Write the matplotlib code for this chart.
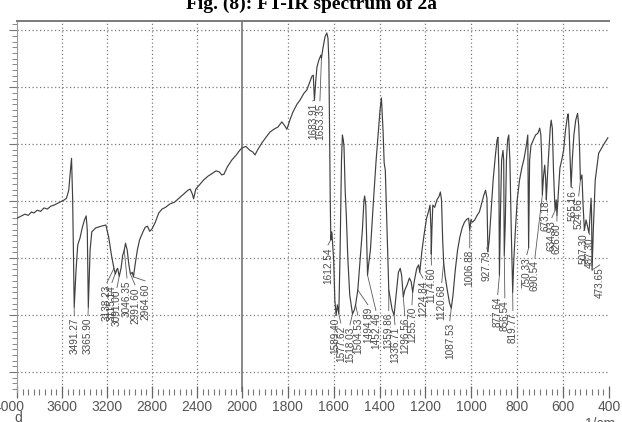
import numpy as np
import matplotlib.pyplot as plt
import matplotlib.transforms as mtransforms
from matplotlib.ticker import FixedLocator, NullFormatter, MultipleLocator

# FT-IR trace: wavenumber (1/cm) and transmittance
wavenumber = [
    4000, 3960, 3930, 3900, 3870, 3850, 3820, 3790, 3760, 3730,
    3700, 3670, 3640, 3600, 3580, 3560, 3540, 3525, 3515, 3505,
    3491.27, 3475, 3460, 3440, 3420, 3400, 3385, 3375, 3365.90, 3350,
    3335, 3300, 3250, 3210, 3185, 3160, 3138.23, 3125, 3115.14, 3105,
    3091.00, 3075, 3060, 3046.35, 3035, 3020, 3005, 2991.60, 2975, 2964.60,
    2950, 2930, 2910, 2880, 2860, 2840, 2820, 2800, 2770, 2740,
    2710, 2680, 2640, 2600, 2560, 2520, 2480, 2460, 2440, 2430,
    2410, 2380, 2340, 2300, 2260, 2230, 2200, 2180, 2160, 2130,
    2090, 2050, 2020, 2000, 1983, 1965, 1952, 1943, 1930, 1913,
    1895, 1878, 1861, 1843, 1826, 1813, 1804, 1791, 1778, 1760,
    1747, 1730, 1717, 1704, 1695, 1689, 1683.91, 1678, 1673, 1665,
    1656, 1653.35, 1647, 1638, 1630, 1625, 1621, 1617, 1615, 1612.54,
    1608, 1600, 1595, 1589.40, 1584, 1577.62, 1572, 1566, 1562, 1558,
    1555, 1550, 1545, 1538, 1530, 1518.03, 1510, 1504.53, 1494.89, 1485,
    1475, 1468, 1465, 1460, 1455, 1452.46, 1448, 1440, 1425, 1415,
    1405, 1398, 1392, 1385, 1380, 1375, 1370, 1365, 1359.86, 1352,
    1345, 1336.71, 1328, 1318, 1310, 1304, 1296.56, 1290, 1280, 1270,
    1262, 1255.70, 1248, 1238, 1230, 1224.84, 1215, 1205, 1195, 1185,
    1180, 1176, 1174.60, 1172, 1168, 1160, 1150, 1140, 1135, 1130,
    1125, 1120.68, 1115, 1105, 1095, 1087.53, 1080, 1070, 1060, 1050,
    1040, 1030, 1020, 1012, 1006.88, 1002, 995, 985, 975, 965,
    955, 945, 938, 932, 927.79, 922, 915, 905, 895, 888,
    884, 880, 877.64, 872, 868, 862, 859, 856.54, 852, 847,
    842, 837, 832, 826, 819.77, 815, 808, 800, 790, 780,
    770, 760, 754, 750.33, 746, 740, 730, 720, 710, 702,
    697, 693, 690.54, 685, 680, 676, 673.18, 668, 662, 656,
    652, 647, 642, 638, 634.93, 630, 626.80, 620, 614, 606,
    598, 590, 582, 578, 574, 570, 565.16, 560, 553, 545,
    537, 532, 528, 524.66, 518, 513, 507.30, 500, 487.30, 482,
    478, 476, 473.65, 468, 460, 445, 425, 405,
]
transmittance = [
    37.0, 37.4, 37.7, 37.5, 38.1, 37.9, 38.4, 38.2, 38.8, 38.6,
    39.1, 39.3, 39.6, 40.0, 40.2, 40.5, 41.9, 45.4, 47.5, 40.2,
    21.4, 27.9, 32.3, 33.5, 35.3, 36.7, 37.4, 34.9, 21.4, 31.4,
    34.6, 35.3, 35.6, 35.8, 33.7, 30.5, 28.2, 27.2, 27.9, 28.2,
    26.8, 28.2, 30.5, 31.4, 32.6, 31.4, 28.8, 27.2, 27.5, 26.7,
    28.8, 31.4, 33.2, 34.6, 35.4, 35.6, 34.7, 35.1, 36.3, 37.9,
    38.6, 38.9, 39.5, 39.8, 40.5, 41.2, 41.9, 42.1, 41.2, 40.4,
    42.1, 42.8, 43.7, 44.4, 44.9, 45.3, 45.1, 44.6, 44.7, 46.0,
    47.2, 48.1, 48.9, 49.3, 49.6, 48.9, 48.6, 48.1, 49.1, 50.2,
    51.2, 52.1, 52.6, 53.0, 53.9, 53.2, 52.6, 54.2, 55.6, 57.0,
    57.7, 58.9, 59.5, 60.9, 61.9, 62.1, 57.7, 61.2, 63.5, 64.7,
    65.6, 65.1, 66.8, 68.8, 69.5, 68.6, 64.7, 48.9, 40.2, 33.2,
    34.6, 29.6, 22.6, 20.0, 21.8, 20.2, 31.4, 47.2, 51.6, 50.7,
    49.5, 41.9, 37.5, 29.6, 23.5, 20.2, 20.9, 21.8, 24.4, 29.6,
    34.9, 40.2, 40.9, 39.3, 31.4, 27.0, 28.8, 31.4, 41.1, 47.2,
    52.5, 56.0, 58.1, 52.5, 46.7, 45.4, 38.4, 31.4, 24.4, 22.6,
    20.9, 20.0, 23.5, 27.5, 28.2, 27.0, 23.2, 24.4, 25.3, 26.5,
    25.8, 24.0, 26.1, 28.2, 28.8, 27.5, 31.4, 34.4, 37.0, 38.4,
    39.3, 34.9, 30.7, 34.9, 39.3, 38.9, 40.2, 40.9, 41.6, 40.2,
    33.2, 29.3, 27.0, 24.4, 22.1, 21.2, 23.5, 27.9, 31.4, 33.7,
    35.3, 36.3, 36.8, 37.0, 34.9, 36.7, 36.3, 36.7, 37.5, 38.1,
    39.6, 41.1, 41.9, 40.5, 31.1, 33.2, 37.5, 43.7, 48.1, 50.7,
    51.2, 45.4, 27.0, 40.2, 47.2, 48.9, 47.2, 30.5, 36.3, 47.2,
    50.7, 51.6, 47.2, 34.9, 24.0, 29.6, 34.9, 40.2, 43.7, 45.8,
    47.5, 49.8, 51.6, 31.8, 47.2, 49.8, 50.7, 51.6, 51.9, 52.8,
    51.6, 47.2, 41.1, 44.6, 46.3, 43.7, 40.2, 44.6, 48.9, 52.8,
    54.2, 52.8, 45.4, 41.1, 38.4, 40.2, 37.5, 41.9, 45.8, 47.2,
    48.9, 52.3, 54.7, 55.3, 52.6, 48.2, 42.5, 47.2, 51.6, 54.2,
    55.4, 53.3, 48.9, 43.7, 44.6, 39.3, 34.9, 36.7, 34.4, 37.9,
    40.5, 37.9, 27.9, 35.4, 43.7, 48.4, 49.8, 51.1,
]

# peak picks printed under the trace
peak_labels = [
    "3491.27", "3365.90", "3138.23", "3115.14", "3091.00", "3046.35",
    "2991.60", "2964.60", "1683.91", "1653.35", "1612.54", "1589.40",
    "1577.62", "1518.03", "1504.53", "1494.89", "1452.46", "1359.86",
    "1336.71", "1296.56", "1255.70", "1224.84", "1174.60", "1120.68",
    "1087.53", "1006.88", "927.79", "877.64", "856.54", "819.77",
    "750.33", "690.54", "673.18", "634.93", "626.80", "565.16",
    "524.66", "507.30", "487.30", "473.65",
]
# where each label's text sits (wavenumber of the text, %T at its upper end)
label_wn = [
    3491, 3369, 3200, 3156, 3111, 3022, 2951, 2862, 1691, 1660,
    1625, 1595, 1569, 1529, 1495, 1451, 1416, 1360, 1333, 1290,
    1259, 1211, 1174, 1129, 1094, 1007, 933, 885, 854, 819,
    758, 723, 675, 649, 627, 558, 532, 510, 484, 440,
]
label_top = [
    19.5, 19.5, 25.3, 25.3, 24.4, 26.1, 24.9, 25.6, 57.2, 57.2,
    31.9, 19.5, 18.2, 17.9, 19.6, 21.4, 20.4, 20.4, 17.9, 19.5,
    21.4, 26.1, 28.4, 25.3, 18.6, 31.4, 31.4, 23.2, 22.6, 20.4,
    30.2, 29.6, 40.2, 36.7, 36.1, 41.9, 40.5, 34.4, 33.7, 28.4,
]

x_ticks = [4000, 3600, 3200, 2800, 2400, 2000, 1800, 1600, 1400, 1200, 1000, 800, 600, 400]
y_grid = [10, 20, 30, 40, 50, 60, 70]


# instrument axis: 400 1/cm steps above 2000, 200 1/cm steps below
def fwd(w):
    w = np.asarray(w, dtype=float)
    return np.where(w >= 2000, (w - 2000) / 400 * 45.0, (w - 2000) / 200 * 45.9)


def inv(p):
    p = np.asarray(p, dtype=float)
    return np.where(p >= 0, 2000 + p / 45.0 * 400, 2000 + p / 45.9 * 200)


minor_ticks = list(np.arange(4000, 2000, -50)) + list(np.arange(2000, 399, -25))

fig = plt.figure(figsize=(6.22, 4.22), dpi=100)
ax = fig.add_axes([17 / 622, 30 / 422, 592 / 622, 371 / 422])
ax.set_xscale('function', functions=(fwd, inv))
ax.set_xlim(4000, 400)
ax.set_ylim(6.5, 71.6)

grey = '#7a7a7a'
for w in x_ticks[1:-1]:
    if w == 2000:
        ax.axvline(w, color='#6a6a6a', lw=1.1, zorder=1)
    else:
        ax.axvline(w, color=grey, lw=0.9, ls=(0, (1, 2)), zorder=1)
for t in y_grid:
    ax.axhline(t, color=grey, lw=0.9, ls=(0, (1, 2)), zorder=1)

ax.plot(wavenumber, transmittance, color='#404040', lw=0.85, zorder=3)

peak_wn = [float(s) for s in peak_labels]
peak_t = np.interp(peak_wn, wavenumber[::-1], transmittance[::-1])
for lab, pw, pt, lw_, lt in zip(peak_labels, peak_wn, peak_t, label_wn, label_top):
    ax.plot([pw, lw_], [pt, lt + 0.4], color='#5a5a5a', lw=0.6, zorder=2)
    ax.text(lw_, lt, lab, rotation=90, ha='center', va='top', fontsize=7.2,
            family='Liberation Sans', color='#4a4a4a', zorder=4)

# frame
ax.spines['top'].set_color('#7a7a7a')
ax.spines['top'].set_linewidth(1.4)
ax.spines['left'].set_color('#9a9a9a')
ax.spines['left'].set_linewidth(0.8)
ax.spines['right'].set_visible(False)
ax.spines['bottom'].set_visible(False)

ax.xaxis.set_major_locator(FixedLocator(x_ticks))
ax.xaxis.set_minor_locator(FixedLocator(minor_ticks))
ax.xaxis.set_minor_formatter(NullFormatter())
ax.set_xticklabels([str(v) for v in x_ticks])
ax.tick_params(axis='x', which='major', direction='inout', length=9, width=0.9,
               color='#666666', pad=1, labelsize=10, labelcolor='#555555')
ax.tick_params(axis='x', which='minor', direction='inout', length=5, width=0.8,
               color='#777777')
for lbl in ax.get_xticklabels():
    lbl.set_family(['Liberation Sans Narrow', 'Liberation Sans'])

ax.yaxis.set_major_locator(FixedLocator(y_grid))
ax.yaxis.set_minor_locator(MultipleLocator(1))
ax.set_yticklabels([])
ax.tick_params(axis='y', which='major', direction='out', length=6, width=0.8, color='#777777')
ax.tick_params(axis='y', which='minor', direction='out', length=3.5, width=0.7, color='#888888')

# shift the first axis label so its leading digit falls off the sheet
first = ax.get_xticklabels()[0]
first.set_transform(first.get_transform() + mtransforms.ScaledTranslation(-8 / 100, 0, fig.dpi_scale_trans))

fig.text(0.5, 1 - 9 / 422, 'Fig. (8): FT-IR spectrum of 2a', ha='center', va='baseline',
         fontsize=14, fontweight='bold', family='Liberation Serif', color='black')
fig.text(18 / 622, 1 - 411 / 422, 'd', ha='center', va='top', fontsize=10,
         family='Liberation Sans', color='#555555')
fig.text(600 / 622, 1 - 417 / 422, '1/cm', ha='center', va='top', fontsize=10,
         family='Liberation Sans', color='#555555')

fig.savefig('out.png', dpi=100)
